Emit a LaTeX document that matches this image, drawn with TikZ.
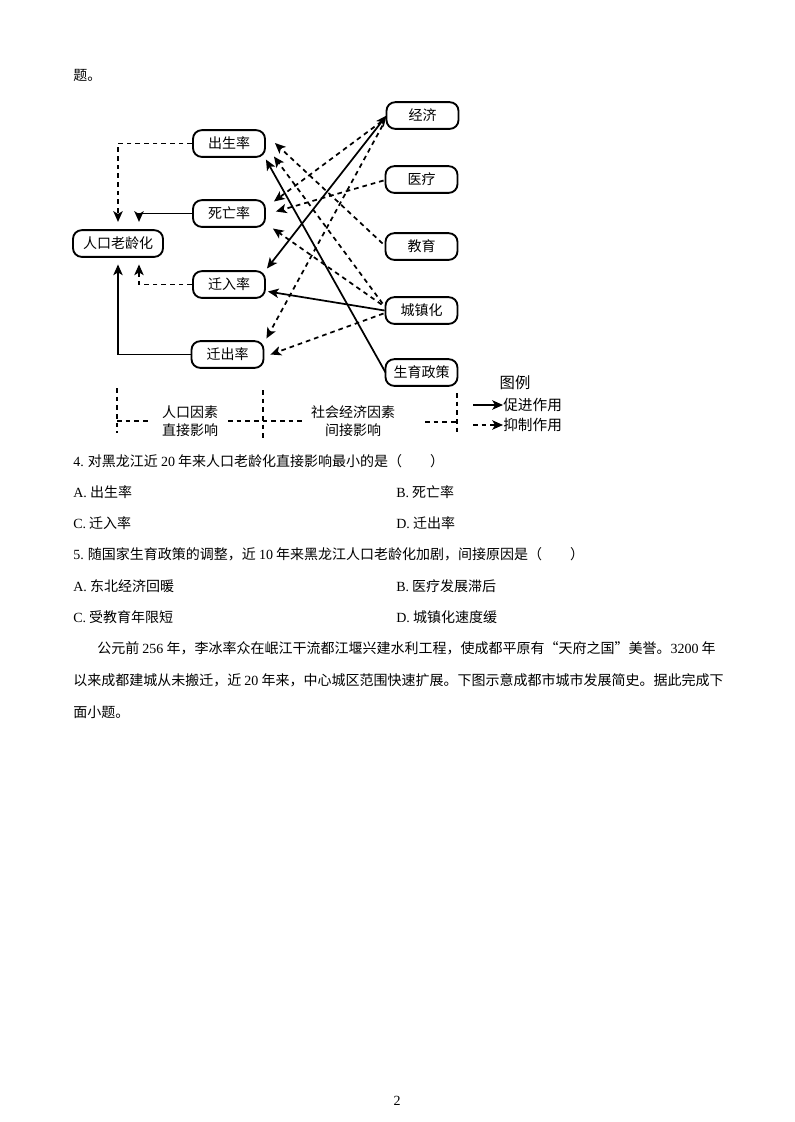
\documentclass[tikz,border=0pt]{standalone}
\usepackage{fontspec}
\setmainfont{Noto Sans CJK SC}
\newfontfamily\lat{Liberation Serif}
\usetikzlibrary{arrows.meta}
\tikzset{
  box/.style={draw, line width=1.4pt, rounded corners=6.5pt, minimum width=54pt, minimum height=20pt, inner sep=1pt, font=\fontsize{10.5}{12}\selectfont},
  tip/.style={-{Stealth[length=8pt,width=7pt,inset=2pt]}},
  pro/.style={line width=1.3pt, tip},
  inh/.style={line width=1.3pt, tip, dash pattern=on 3.5pt off 3pt},
  both/.style={line width=1.3pt, {Stealth[length=8pt,width=7pt,inset=2pt]}-{Stealth[length=8pt,width=7pt,inset=2pt]}},
  brk/.style={line width=1.2pt, dash pattern=on 3.5pt off 3pt},
  txt/.style={anchor=west, inner sep=0pt, font=\fontsize{10.5}{12}\selectfont},
  lbl/.style={align=center, inner sep=0pt, font=\fontsize{10.5}{13.5}\selectfont},
}
\begin{document}
\begin{tikzpicture}[x=0.75pt,y=-0.75pt]
\useasboundingbox[fill=white] (0,0) rectangle (794,1122);

% boxes
\node[box] (birth) at (229,143.5) {出生率};
\node[box] (death) at (229,213.5) {死亡率};
\node[box] (immig) at (229,284.5) {迁入率};
\node[box] (emig) at (227.5,354.5) {迁出率};
\node[box, minimum width=67.5pt] (aging) at (118,243.5) {人口老龄化};
\node[box] (econ) at (422.5,115.5) {经济};
\node[box] (med) at (421.5,179.5) {医疗};
\node[box] (edu) at (421.5,246.5) {教育};
\node[box] (urban) at (421.5,310.5) {城镇化};
\node[box] (policy) at (421.5,372.5) {生育政策};

% direct influences
\draw[inh, shorten >=5.5pt] (birth.west) -| (aging.north);
\draw[pro, shorten >=5.5pt] (death.west) -| ([xshift=15.75pt]aging.north);
\draw[inh, shorten >=5pt] (immig.west) -| ([xshift=15.75pt]aging.south);
\draw[pro, shorten >=5pt] (emig.west) -| (aging.south);

% indirect influences
\draw[inh] ([shift={(-2,-3)}]edu.west) -- ([shift={(9,-0.5)}]birth.east);
\draw[inh] ([shift={(-2,-7)}]urban.west) -- ([shift={(8,13)}]birth.east);
\draw[pro] ([shift={(1,0)}]policy.west) -- ([shift={(0,16)}]birth.east);
\draw[inh] ([shift={(-4,6)}]econ.west) -- ([shift={(8,-12)}]death.east);
\draw[inh] ([shift={(-1,1)}]med.west) -- ([shift={(10,-2)}]death.east);
\draw[inh] ([shift={(-3,-6)}]urban.west) -- ([shift={(7,15)}]death.east);
\draw[both] ([shift={(1,-16)}]immig.east) -- ([shift={(1,0)}]econ.west);
\draw[pro] (urban.west) -- ([shift={(2,7)}]immig.east);
\draw[inh] ([shift={(-3,10)}]econ.west) -- ([shift={(2,-16)}]emig.east);
\draw[inh] ([shift={(-1,3)}]urban.west) -- ([shift={(6,0)}]emig.east);

% bottom bracket
\draw[brk] (117,388) -- (117,433);
\draw[brk] (117,421) -- (148,421);
\draw[brk] (228,421) -- (303,421);
\draw[brk] (263,390) -- (263,438);
\draw[brk] (425,422) -- (457,422);
\draw[brk] (457,393) -- (457,432);
\node[lbl] (l1) at (190,421) {人口因素\\直接影响};
\node[lbl] (l2) at (353,421) {社会经济因素\\间接影响};

% legend
\node[inner sep=0pt, font=\fontsize{11.5}{13}\selectfont] (leg) at (515,383) {图例};
\coordinate (s1) at (473,405);
\node[anchor=west, inner sep=0pt, font=\fontsize{11}{12}\selectfont] (t1) at (503,405) {促进作用};
\draw[pro] (s1) -- (t1.west);
\coordinate (s2) at (473,425);
\node[anchor=west, inner sep=0pt, font=\fontsize{11}{12}\selectfont] (t2) at (503,425) {抑制作用};
\draw[inh] (s2) -- (t2.west);

% text
\node[txt] (q0) at (73,75) {题。};
\node[txt] (q4) at (73,461) {{\lat 4.} 对黑龙江近 {\lat 20} 年来人口老龄化直接影响最小的是（　　）};
\node[txt] (q4a) at (73,492) {{\lat A.} 出生率};
\node[txt] (q4b) at (396,492) {{\lat B.} 死亡率};
\node[txt] (q4c) at (73,523) {{\lat C.} 迁入率};
\node[txt] (q4d) at (396,523) {{\lat D.} 迁出率};
\node[txt] (q5) at (73,554) {{\lat 5.} 随国家生育政策的调整，近 {\lat 10} 年来黑龙江人口老龄化加剧，间接原因是（　　）};
\node[txt] (q5a) at (73,586) {{\lat A.} 东北经济回暖};
\node[txt] (q5b) at (396,586) {{\lat B.} 医疗发展滞后};
\node[txt] (q5c) at (73,617) {{\lat C.} 受教育年限短};
\node[txt] (q5d) at (396,617) {{\lat D.} 城镇化速度缓};
\node[txt] (p1) at (97,648) {公元前 {\lat 256} 年，李冰率众在岷江干流都江堰兴建水利工程，使成都平原有“天府之国”美誉。{\lat 3200} 年};
\node[txt] (p2) at (73,680) {以来成都建城从未搬迁，近 {\lat 20} 年来，中心城区范围快速扩展。下图示意成都市城市发展简史。据此完成下};
\node[txt] (p3) at (73,712) {面小题。};
\node[inner sep=0pt, font=\lat\fontsize{10.5}{12}\selectfont] (pg) at (397,1101) {2};
\end{tikzpicture}
\end{document}
